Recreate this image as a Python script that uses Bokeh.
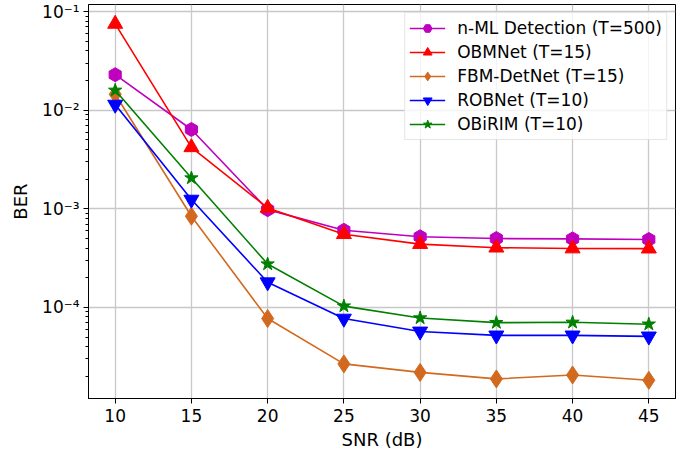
import numpy as np
from bokeh.plotting import figure
from bokeh.models import FixedTicker, CustomJSTickFormatter, Range1d
from bokeh.embed import file_html
from bokeh.resources import INLINE

snr = [10, 15, 20, 25, 30, 35, 40, 45]
nml = [0.0229, 0.00637, 0.00098, 6.05e-4, 5.2e-4, 4.99e-4, 4.95e-4, 4.88e-4]
obmnet = [0.075, 0.0042, 0.00102, 5.52e-4, 4.38e-4, 4.03e-4, 3.95e-4, 3.94e-4]
fbm = [0.0145, 8.4e-4, 7.7e-5, 2.67e-5, 2.19e-5, 1.88e-5, 2.06e-5, 1.82e-5]
robnet = [0.0114, 1.24e-3, 1.80e-4, 7.7e-5, 5.7e-5, 5.2e-5, 5.2e-5, 5.08e-5]
obirim = [0.0159, 2.05e-3, 2.75e-4, 1.03e-4, 7.8e-5, 7.0e-5, 7.05e-5, 6.75e-5]

labels = ["n-ML Detection (T=500)", "OBMNet (T=15)", "FBM-DetNet (T=15)",
          "ROBNet (T=10)", "OBiRIM (T=10)"]
series_list = [nml, obmnet, fbm, robnet, obirim]
colors = ["#bf00bf", "#ff0000", "#d2691e", "#0000ff", "#008000"]
markers = ["hex", "triangle", "diamond", "inverted_triangle", "star"]
angles = [np.pi / 2, 0, 0, 0, 0]
sizes = [14, 15, 18, 15, 14]

FONT = "DejaVu Sans"

p = figure(width=690, height=452, output_backend="svg", toolbar_location=None,
           y_axis_type="log",
           x_range=Range1d(8.25, 46.75), y_range=Range1d(1.19e-5, 0.118),
           min_border_left=88, min_border_right=15, min_border_top=4,
           min_border_bottom=48)
p.outline_line_color = "black"
p.outline_line_width = 1
p.background_fill_color = "white"
p.border_fill_color = "white"

for ys, lab, c, m, a, s in zip(series_list, labels, colors, markers, angles, sizes):
    p.line(snr, ys, line_color=c, line_width=1.6, legend_label=lab)
    p.scatter(snr, ys, marker=m, size=s, angle=a, fill_color=c, line_color=c,
              legend_label=lab)

p.xaxis.ticker = FixedTicker(ticks=[10, 15, 20, 25, 30, 35, 40, 45])
minor = [k * 10.0 ** e for e in range(-6, 0) for k in range(2, 10)]
p.yaxis.ticker = FixedTicker(ticks=[1e-4, 1e-3, 1e-2, 1e-1], minor_ticks=minor)
p.yaxis.formatter = CustomJSTickFormatter(code="""
const e = Math.round(Math.log10(tick));
const sup = {'-':'\u207b','0':'\u2070','1':'\u00b9','2':'\u00b2','3':'\u00b3','4':'\u2074','5':'\u2075','6':'\u2076','7':'\u2077','8':'\u2078','9':'\u2079'};
return '10' + String(e).split('').map(ch => sup[ch]).join('');
""")

for ax in (p.xaxis, p.yaxis):
    ax.axis_line_color = "black"
    ax.axis_line_width = 1
    ax.major_tick_line_color = "black"
    ax.major_tick_out = 5
    ax.major_tick_in = 0
    ax.minor_tick_line_color = "black"
    ax.minor_tick_out = 3
    ax.minor_tick_in = 0
    ax.major_label_text_font = FONT
    ax.major_label_text_font_size = "17px"
    ax.major_label_text_color = "black"
    ax.axis_label_text_font = FONT
    ax.axis_label_text_font_size = "18px"
    ax.axis_label_text_font_style = "normal"
    ax.axis_label_text_color = "black"
p.xaxis.minor_tick_line_color = None
p.xaxis.major_label_standoff = 5
p.yaxis.major_label_standoff = 4
p.xaxis.axis_label = "SNR (dB)"
p.yaxis.axis_label = "BER"
p.xaxis.axis_label_standoff = 4
p.yaxis.axis_label_standoff = 8

p.grid.grid_line_color = "#c8c8c8"
p.grid.grid_line_width = 1.3
p.ygrid.minor_grid_line_color = None

lg = p.legend[0]
lg.location = "top_right"
lg.margin = 8
lg.padding = 4
lg.spacing = 2
lg.glyph_width = 36
lg.glyph_height = 22
lg.label_height = 22
lg.label_standoff = 12
lg.label_text_font = FONT
lg.label_text_font_size = "17px"
lg.label_text_color = "black"
lg.border_line_color = "#cccccc"
lg.border_line_width = 1
lg.background_fill_color = "white"
lg.background_fill_alpha = 0.8

open("out.html", "w").write(file_html(p, INLINE))
